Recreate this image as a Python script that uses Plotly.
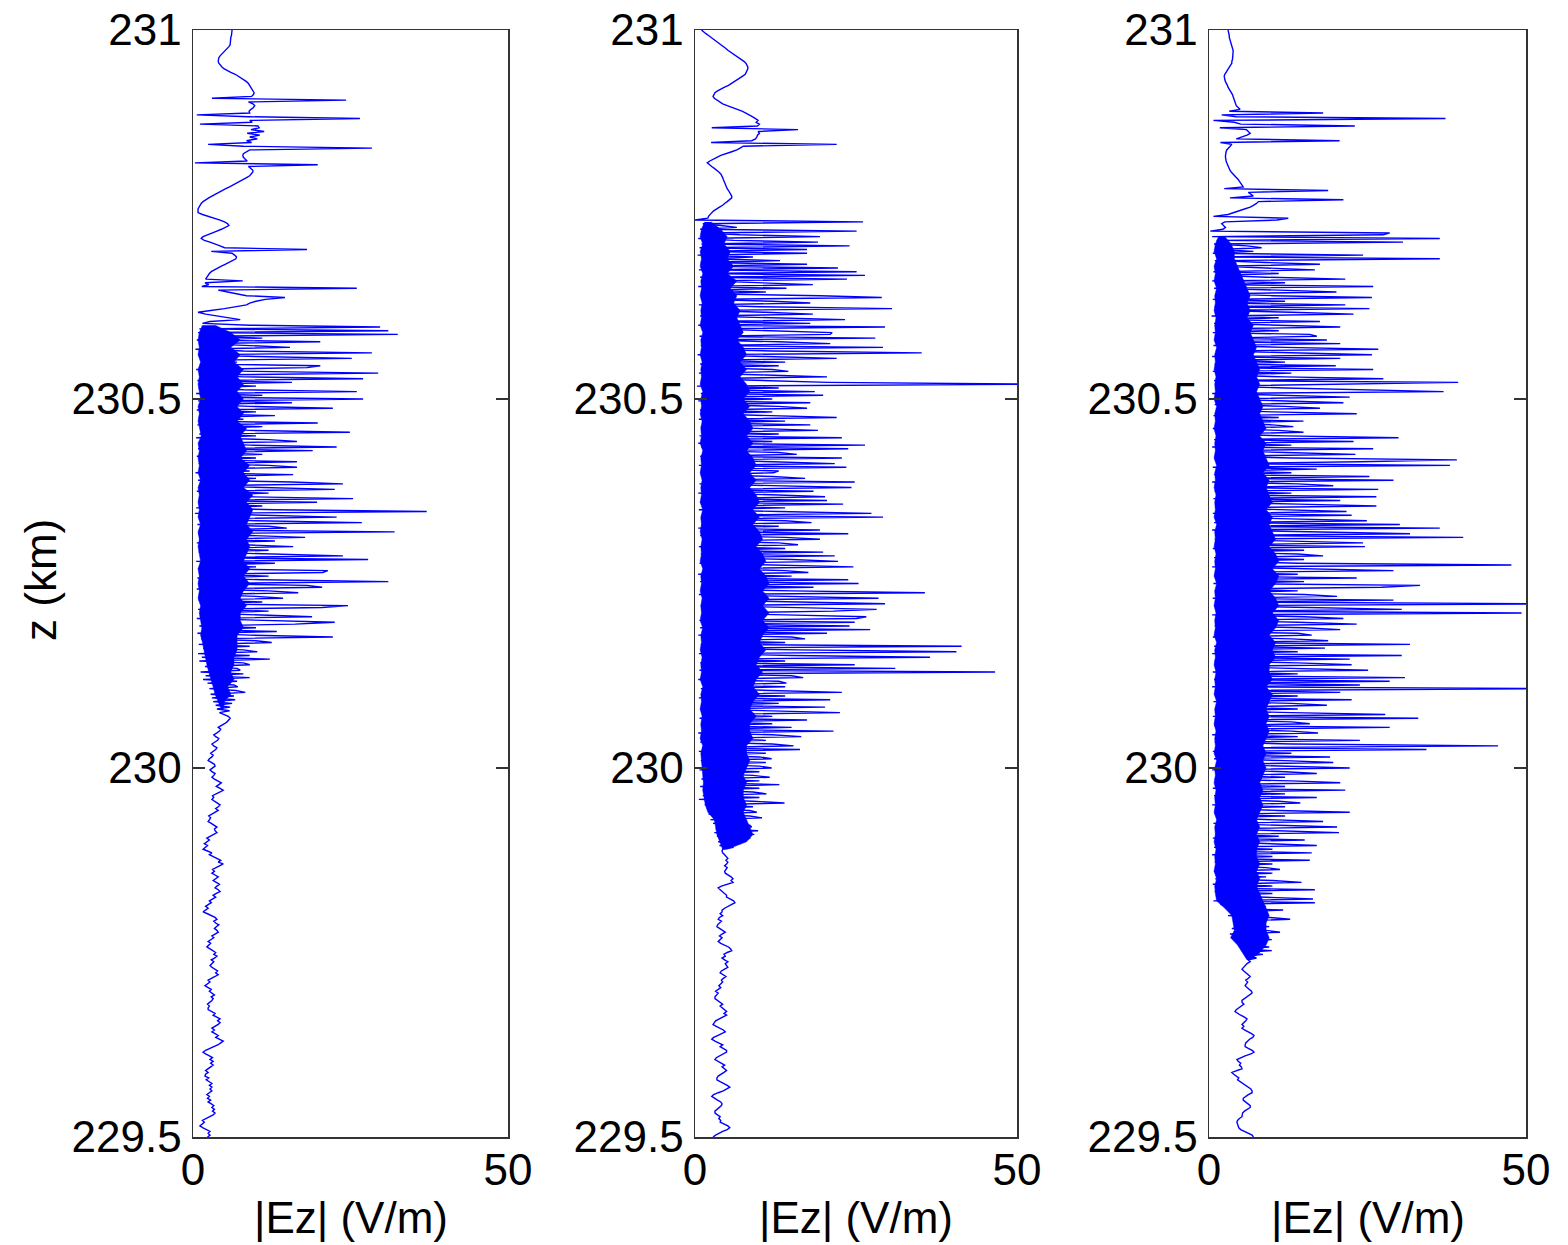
import plotly.graph_objects as go

# Sampling grid (km): z = Z_TOP - DZ * i
Z_TOP = 231.0
DZ = 0.0025

# ---------------- Panel 1 |Ez| (V/m) ----------------
ez1_top = [
    6.2,6.2,6.1,6.1,6.0,6.0,6.0,5.9,5.9,5.7,
    5.4,5.1,4.8,4.5,4.3,4.1,4.0,4.0,4.1,4.3,
    4.6,4.9,5.4,6.0,6.7,7.2,7.7,8.1,8.5,8.8,
    9.0,9.2,9.3,9.5,9.7,9.6,9.3,3.0,24.3,8.8,
    9.5,9.8,9.6,9.2,8.9,9.0,0.6,8.8,26.5,9.0,
    9.4,1.1,10.3,10.5,9.2,11.3,8.6,10.6,9.0,10.2,
    8.5,9.3,2.4,8.0,28.4,9.0,8.4,8.0,7.9,8.0,
    8.3,8.6,0.3,19.8,8.8,9.2,9.5,9.5,9.3,9.0,
    8.5,8.0,7.4,6.9,6.4,5.8,5.2,4.6,4.0,3.5,
    3.0,2.5,2.0,1.6,1.3,1.1,0.9,0.8,0.8,0.8,
    1.5,2.5,3.5,4.3,5.0,5.5,5.7,5.2,4.5,3.8,
    3.0,2.2,1.6,1.3,1.8,2.7,3.6,4.3,5.0,18.1,
    2.9,6.2,6.6,6.9,6.8,6.3,5.7,5.1,4.5,3.9,
    3.4,2.9,2.6,2.4,2.2,2.0,7.9,1.9,2.5,1.4,
    26.0,4.0,5.5,7.0,8.5,14.6,11.5,10.0,9.0,8.5,
    7.0,5.0,2.8,0.8,2.0,3.8,5.4,7.5,2.7,
]
ez1_dense = [
    1.5,9,29.7,1.0,31,0.8,32.5,1.2,11,0.6,
    20.2,1.5,9,15.4,0.4,8,28.4,0.9,10,25.2,
    1.2,7,1.8,20.2,18.1,0.5,9,29.4,1.0,8,
    27,0.7,15.7,1.4,10,0.9,8,26,0.5,11,
    1.3,27,0.8,15.7,1.1,9,22.2,0.6,10,1.5,
    13,0.9,8,1.2,19.8,0.7,11,1.6,9,24.9,
    1.0,10,0.5,12,16.5,1.3,9,22.8,0.8,19,
    1.4,11,0.6,10,1.8,16.5,0.9,12,16.5,1.2,
    9,0.4,15.9,1.7,10,0.8,15.7,23.8,1.1,11,
    22.5,0.6,12,1.5,9,25.4,0.9,19.7,1.3,11,
    0.5,13,37.1,0.3,12,22.8,1.2,10,26.8,0.7,
    12,14.9,1.6,32,0.8,11,17.8,1.0,13,0.6,
    10,15.9,1.4,12,0.9,11,23.8,1.2,27.8,0.5,
    13,1.7,10,0.8,21.4,20.6,1.3,12,0.7,11,
    31,1.1,18.1,20.5,0.6,12,16.7,1.5,10,14.3,
    0.9,11,1.4,24.6,20.5,0.8,12,1.2,10,18.9,
    0.6,11,22.5,16.2,1.0,10,1.8,13.3,0.7,9,
    22.2,1.3,10,12.5,0.9,9,1.6,8,10.2,0.8,
    9,1.4,12.2,1.0,8,9.0,1.9,7,7.5,1.2,
    8,2.0,9.0,1.6,7,2.3,6.5,7.1,2.6,6.8,
    8.3,2.8,6.5,3.0,6.7,3.2,6.2,3.6,5.9,3.8,
    5.8,4.2,
]
ez1_bottom = [
    5.0,5.6,5.9,5.7,5.4,5.0,4.5,4.0,4.4,4.2,
    3.8,3.3,3.6,4.1,3.9,3.5,3.0,3.3,3.8,3.6,
    3.2,2.8,3.2,3.0,2.6,2.4,2.9,3.4,3.5,3.1,
    2.7,3.0,3.5,3.3,3.0,3.4,4.0,4.5,4.1,3.7,
    4.3,4.8,4.3,3.6,3.1,3.3,3.0,3.4,3.9,4.3,
    4.0,3.6,4.0,3.5,2.9,2.5,2.8,2.6,2.4,2.9,
    3.4,3.8,3.4,3.5,3.8,3.3,2.7,2.2,2.6,2.2,
    1.8,2.3,1.9,1.6,2.3,3.0,2.6,3.2,3.9,4.4,
    4.0,4.8,4.2,3.5,3.1,3.4,3.0,3.5,4.0,3.6,
    3.2,3.7,4.2,3.8,3.5,4.0,4.3,3.7,3.2,3.6,
    3.0,2.6,2.9,2.4,2.0,2.4,1.9,1.6,2.3,3.0,
    3.5,3.8,3.3,3.6,4.1,3.7,3.4,3.8,4.0,3.5,
    3.0,3.3,2.8,2.4,2.8,2.5,2.2,2.7,3.2,3.6,
    3.3,3.8,3.4,2.9,3.3,3.0,2.7,3.0,3.5,3.9,
    3.6,4.0,3.5,2.9,2.4,2.7,2.2,1.9,2.4,2.9,
    2.6,3.0,3.4,2.9,3.2,3.0,2.7,2.3,2.6,2.4,
    2.4,2.9,3.5,3.2,3.8,4.3,3.9,4.3,4.0,3.5,
    3.0,3.4,3.0,3.5,4.0,3.6,4.2,4.8,4.4,4.0,
    3.3,2.6,2.0,1.6,2.0,2.6,3.1,2.7,3.2,2.8,
    3.2,2.8,2.4,2.0,2.4,2.0,1.9,2.5,2.1,2.6,
    3.0,2.6,3.0,2.7,3.0,2.6,2.2,2.6,2.3,2.8,
    2.4,2.9,3.3,3.0,3.4,3.1,3.5,3.2,2.6,2.0,
    1.5,1.8,1.4,1.1,1.6,2.2,2.7,2.4,2.7,2.3,
]

# ---------------- Panel 2 |Ez| (V/m) ----------------
ez2_top = [
    1.0,1.3,1.7,2.1,2.5,2.8,3.2,3.6,4.0,4.4,
    4.8,5.1,5.5,5.9,6.3,6.8,7.3,7.6,7.9,8.1,
    8.2,8.2,8.1,8.0,7.8,7.4,7.0,6.5,6.1,5.7,
    5.2,4.6,4.0,3.5,3.1,2.9,2.8,3.0,3.4,3.8,
    4.3,5.0,5.8,6.7,7.3,7.9,8.5,8.9,9.4,9.8,
    9.5,10.0,9.7,2.6,16.0,9.8,10.0,9.7,9.6,9.4,
    8.8,2.5,22.0,7.5,7.0,6.5,5.7,4.8,4.0,3.4,
    2.8,2.3,1.9,2.2,2.6,3.0,3.4,3.7,4.0,4.2,
    4.3,4.4,4.5,4.6,4.7,4.8,5.0,5.2,5.4,5.6,
    5.7,5.7,5.4,5.0,4.6,4.3,3.8,3.3,2.9,2.6,
    2.3,2.1,2.0,0.0,
]
ez2_dense = [
    26.1,1.2,4.0,6.5,0.8,25.1,1.5,7,19.4,0.5,
    6,19.1,1.0,24,0.7,17.4,1.3,17.4,0.4,9,
    1.6,13.2,0.9,17.4,1.1,22.2,0.6,25.1,1.4,26.4,
    0.8,23.6,1.7,10,18.3,0.5,14.2,1.2,11,0.9,
    19.4,29,1.0,12,17.9,0.6,10,30.6,1.4,11,
    18.3,0.8,12,23.3,1.1,17.9,0.5,29.5,1.5,12,
    21.3,21,0.7,28,1.3,13,21,0.9,29.2,1.6,
    12,35.2,0.4,11,22,1.2,14,0.8,13,1.5,
    12,14.5,0.6,11,20.5,1.0,12,20.7,55,0.3,
    13,1.4,18.6,0.9,19.9,1.2,12,0.5,17.9,1.7,
    13,17.4,0.8,12,1.3,11,22,0.6,14,1.5,
    17.9,0.9,12,19.1,1.1,13,0.7,22.8,1.4,12,
    0.5,26.4,1.0,23.8,1.6,13,15.8,0.8,22.8,1.2,
    12,21.7,0.6,23.5,1.5,13,12.2,0.9,12,17.1,
    1.3,24.8,0.7,14,24.3,1.1,18.4,0.5,13,20.2,
    1.6,20.5,0.8,23,1.2,14,0.6,13,27.4,1.4,
    29.2,0.9,14,18.1,1.0,13,0.5,19.4,1.7,23.8,
    0.8,14,19.4,1.3,13,16,0.6,14,1.5,19.9,
    0.9,21.7,1.1,15,22.2,0.7,13,24.6,1.4,14,
    17.6,0.5,15,1.2,23.8,0.8,25.4,1.6,18.4,1.0,
    15,35.7,0.6,14,28.5,1.3,16,29.5,0.9,15,
    28.2,21.5,1.1,14,26.6,25.1,0.7,24.8,1.5,24,
    0.8,27.2,1.2,20.5,0.5,15,17.1,1.4,14,0.9,
    41.4,1.0,16,40.6,0.6,15,36.5,1.3,14,0.8,
    24.8,1.6,31.1,0.7,46.6,1.1,15,16.8,0.5,13,
    14.2,1.4,14,0.9,13,22.8,1.2,14,0.6,21,
    1.5,13,1.0,20.2,0.8,14,22.5,1.3,12,0.7,
    17.4,1.6,12,0.9,15,1.2,21.5,0.5,12,16.5,
    1.4,11,0.8,12,15.3,1.1,16.3,0.6,11,1.5,
    10,11.9,0.9,11,1.3,10,11.9,0.7,10,1.6,
    9,11.6,1.0,10,1.4,13.1,0.8,10,1.7,9,
    11.1,1.2,10,0.6,9,13.9,1.5,9,1.9,8.5,
    9.6,2.1,8.5,10.4,2.4,8,2.8,8.5,8.8,3.2,
    9.8,3.0,9.2,3.4,8.6,7.5,3.6,7.0,3.8,6.0,
    4.3,
]
ez2_bottom = [
    4.2,4.3,4.6,4.9,5.1,4.8,5.1,4.9,4.6,5.0,
    4.8,4.6,4.7,5.2,5.6,5.9,5.6,5.9,5.0,4.1,
    3.6,3.9,4.3,4.6,4.9,4.9,5.5,6.0,6.2,5.6,
    5.0,4.6,4.2,4.2,3.9,4.3,3.8,3.6,4.1,3.8,
    3.5,3.4,3.8,4.3,4.7,4.2,3.8,4.2,3.9,3.6,
    4.0,4.6,5.2,5.5,5.7,5.0,4.5,4.7,4.2,4.6,
    5.1,4.7,4.9,5.1,4.6,4.1,3.9,4.3,4.8,4.4,
    4.1,4.3,4.0,3.7,4.0,3.6,3.2,3.6,3.3,3.1,
    3.1,3.5,3.9,4.3,3.9,4.3,4.6,4.9,4.5,4.9,
    4.3,3.7,3.2,3.0,2.8,3.3,3.9,4.4,4.7,4.2,
    3.5,2.9,2.6,3.1,3.7,4.3,3.9,4.4,4.9,4.9,
    4.3,3.7,3.3,3.1,3.6,4.1,4.6,4.2,4.6,4.9,
    4.5,4.0,3.6,3.4,3.4,3.9,4.5,5.0,5.4,5.0,
    4.4,3.6,2.9,2.6,3.0,3.5,4.0,4.2,4.1,3.7,
    3.3,3.1,3.1,3.5,3.9,3.7,4.0,3.9,4.5,5.1,
    5.4,5.0,4.3,3.6,3.2,2.8,
]

# ---------------- Panel 3 |Ez| (V/m) ----------------
ez3_top = [
    3.0,3.1,3.1,3.2,3.2,3.3,3.4,3.5,3.6,3.7,
    3.7,3.8,3.8,3.8,3.8,3.7,3.7,3.6,3.6,3.4,
    3.2,3.0,2.8,2.6,2.5,2.4,2.4,2.5,2.6,2.8,
    2.9,3.0,3.2,3.4,3.5,3.7,3.8,3.9,4.0,4.1,
    4.2,4.3,4.6,4.9,3.2,18.0,2.0,4.3,37.3,0.7,
    4.0,5.0,23.0,1.7,5.9,6.2,6.5,6.0,5.2,4.3,
    20.6,1.8,3.6,3.3,3.0,2.8,2.7,2.6,2.6,2.6,
    2.6,2.7,2.8,2.9,3.0,3.2,3.3,3.5,3.8,4.1,
    4.4,4.6,4.8,5.0,5.2,5.4,2.4,18.8,6.2,6.6,
    7.0,3.3,21.2,7.8,7.5,7.0,6.5,5.6,4.7,3.8,
    3.0,0.7,12.5,10.7,2.5,2.0,2.3,2.6,2.2,0.2,
]
ez3_dense = [
    28.5,27.5,0.5,36.4,1.2,30.6,0.8,6,8.3,1.5,
    7,0.6,24.3,1.1,36.4,0.9,9,17.5,1.4,10,
    16.7,0.7,11,1.3,9,21.5,0.5,12,1.6,25.9,
    0.8,11,20.1,1.2,10,25.7,0.6,12,1.5,21.5,
    0.9,25.3,1.1,13,22.8,0.4,11,1.7,17.5,0.8,
    12,20.7,1.3,11,0.6,15.9,17,1.0,18.6,1.4,
    20.7,0.7,12,26.7,1.2,13,25.7,0.5,20.7,1.6,
    12,0.9,20,1.1,25.9,0.6,13,1.4,12,27.5,
    0.8,39.3,23.3,1.2,12,26.7,37,0.5,13,22.2,
    1.5,11,21.2,0.9,12,17.5,1.3,10,23.3,0.7,
    11,1.6,14.9,1.0,10,13.3,0.6,11,14.9,1.4,
    12,29.9,0.8,22.8,1.2,13,0.5,25.9,1.7,12,
    23.1,0.9,13,39.1,23.8,1.1,38,0.6,17,1.4,
    13,0.8,25.3,1.2,29.1,0.5,14,19.6,1.6,26.7,
    0.9,13,1.3,26.4,0.7,20.7,1.5,14,26.4,1.0,
    13,21.7,0.6,22.5,1.4,14,24.9,0.8,30.1,1.2,
    36.4,0.5,15,31.7,1.7,40.1,0.9,14,24.3,1.1,
    24.6,0.6,15,1.4,14,18.0,0.8,15,1.2,14,
    47.7,0.5,15,29.1,1.6,14,0.9,23.3,1.3,15,
    0.7,33.3,27.2,1.5,14,1.0,15,20.2,0.6,29.1,
    1.4,55,0.8,16,30.4,1.2,49.3,0.5,15,21.2,
    1.6,14,23.3,0.9,15,20.7,1.1,14,16.2,0.6,
    13,18.8,1.4,31.7,0.8,18.3,1.2,14,0.5,30.4,
    1.7,22.2,0.9,14,22.5,1.1,15,25.1,0.6,14,
    1.4,30.9,0.8,28.5,1.2,23.8,0.5,55,1.6,20.7,
    0.9,14,1.3,22.5,0.7,13,18.6,1.5,14,1.0,
    13,27.8,0.6,33,1.4,13,15.9,0.8,28.5,1.2,
    13,17.2,0.5,14,1.6,23.8,0.9,13,45.6,1.1,
    34.3,0.6,13,1.4,19.1,0.8,12,19.6,1.2,13,
    22.2,0.5,12,17,1.7,12,0.9,13,20.7,1.1,
    12,0.6,21.5,1.4,12,0.8,17,1.2,11,14.4,
    0.5,12,1.6,11,22.2,0.9,12,1.3,11,18,
    0.7,11,20.2,1.5,12,20.5,1.0,11,0.6,15.1,
    1.4,11,17,0.8,10,1.2,16.2,0.5,10,1.7,
    15.9,0.9,10,1.3,9,11.2,0.8,10,1.5,9,
    1.0,10,14.6,0.6,10,1.4,16.7,0.9,10,1.2,
    9,16.4,0.7,16.7,1.8,9,2.6,11.7,3.4,9,
    3.0,9.5,12.8,3.8,9,4.1,9.5,3.6,9,11.2,
    3.3,9,4.0,9.9,4.5,9,4.9,9.5,5.0,9.9,
    5.4,8.5,5.7,7.5,6.2,6.5,
]
ez3_bottom = [
    6.0,5.7,5.4,5.2,5.5,5.9,6.3,6.5,6.2,5.8,
    6.1,5.9,5.7,6.0,6.4,6.7,6.8,6.4,5.9,5.5,
    5.2,5.2,5.5,5.1,4.6,4.3,4.1,4.5,5.0,5.6,
    6.0,5.8,5.5,5.2,5.5,5.2,5.6,6.2,6.7,7.1,
    6.9,6.4,6.0,5.8,5.7,5.7,6.2,6.8,7.1,6.6,
    5.7,4.9,4.4,4.6,5.0,4.8,5.1,5.2,4.4,3.6,
    3.9,4.3,4.7,4.5,4.9,5.3,5.8,6.3,6.6,6.8,
    6.8,6.2,5.7,5.4,5.4,5.8,6.2,6.5,6.5,6.0,
    5.6,5.3,5.2,5.2,4.8,4.5,4.4,4.5,4.7,4.7,
    5.0,5.6,6.2,6.8,7.0,
]

# ---- Dense-core band of the turbulent zone (where oscillations merge), every 0.01 km ----
DZC = 0.01
core1_ztop = 230.60
core1_hi = [3.5,6,7.5,6,7.5,6.5,8,7,8,7, 8,7,8,7,8.5,7.5,8,8.5,7.5,9,
            8,9,8,9.5,8.5,9.5,9,8.5,9.5,8.5, 9,8.5,8,9,8,9,8,7.5,8.5,7.5,
            7.5,8,7,7,7,6.5,6.5,6,6.5,5.5, 6,5,4.8]
core1_lo = [1.5,1,0.8,1,0.8,1.2,0.8,1,0.8,1, 1.2,0.8,1,0.8,1,1.3,0.8,1,0.8,1,
            0.8,1.2,0.8,1,0.8,1,0.8,1.2,0.8,1, 0.8,1,1.2,0.8,1,0.8,1,0.8,1.2,1,
            1.2,1.4,1.2,1.5,1.8,2.0,2.2,2.5,2.8,3.2, 3.5,4.0,4.5]
core2_ztop = 230.74
core2_hi = [2.5,4,5,4.5,5.5,5,6,5,6.5,5.5, 6.5,6,7,6.5,7,7.5,6.5,7.5,8,7,
            8,7,8,8.5,7.5,8.5,7.5,8.5,9,8, 9,8,9,9.5,8.5,9.5,8.5,9.5,10,9,
            10,9,10,10.5,9.5,10.5,11,10,11,11.5, 10.5,11.5,10.5,11.5,10.5,11.5,10.5,10,11,10,
            9.5,10.5,9.5,9,10,9,8.5,9.5,8.5,8.5, 9,8,8,8.5,8,7.5,8,7.5,7.5,8,
            7.5,8,8.5,9,8,5]
core2_lo = [1.5,1.0,0.8,1.2,0.8,1.0,0.8,1.2,0.9,1.0, 0.8,1.1,0.9,1.0,0.8,1.2,0.9,1.0,0.8,1.1,
            0.9,1.0,0.8,1.2,0.9,1.0,0.8,1.1,0.9,1.0, 0.8,1.2,0.9,1.0,0.8,1.1,0.9,1.0,0.8,1.2,
            0.9,1.0,0.8,1.1,0.9,1.0,0.8,1.2,0.9,1.0, 0.8,1.1,0.9,1.0,0.8,1.2,0.9,1.0,0.8,1.1,
            0.9,1.0,0.8,1.2,0.9,1.0,0.8,1.1,0.9,1.0, 0.8,1.2,0.9,1.0,1.1,1.2,1.3,1.2,1.4,1.6,
            2.0,3.0,3.2,3.4,3.8,4.3]
core3_ztop = 230.72
core3_hi = [2.5,3.5,4,4,4.5,5,5.5,6,6.5,6, 6.5,6,7,6.5,7,7.5,7,7.5,8,7.5,
            8,7.5,8,8.5,8,8.5,9,8,9,8.5, 9,9.5,8.5,9.5,9,9.5,10,9,10,9.5,
            10,10.5,9.5,10.5,11,10,11,10.5,9.5,10.5, 11,10,11,10.5,9.5,10.5,10,10.5,9.5,9.5,
            10,9,10,9.5,9,9.5,9,9.5,9,8.5, 9,8.5,9,8.5,8,8.5,8,8.5,8,7.5,
            8,7.5,8,7.5,7.5,8,7.5,8,7.5,8, 8.5,9,9.5,9,9,9.5,9,8,6.5]
core3_lo = [1.5,1.0,0.8,1.2,0.8,1.0,0.8,1.2,0.9,1.0, 0.8,1.1,0.9,1.0,0.8,1.2,0.9,1.0,0.8,1.1,
            0.9,1.0,0.8,1.2,0.9,1.0,0.8,1.1,0.9,1.0, 0.8,1.2,0.9,1.0,0.8,1.1,0.9,1.0,0.8,1.2,
            0.9,1.0,0.8,1.1,0.9,1.0,0.8,1.2,0.9,1.0, 0.8,1.1,0.9,1.0,0.8,1.2,0.9,1.0,0.8,1.1,
            0.9,1.0,0.8,1.2,0.9,1.0,0.8,1.1,0.9,1.0, 0.8,1.2,0.9,1.0,0.8,1.1,0.9,1.0,0.8,1.2,
            0.9,1.0,0.8,1.1,0.9,1.0,0.8,1.2,0.9,1.0, 1.2,2.5,3.6,3.8,4.0,3.4,4.5,5.3,6.0]

ez_panels = [
    ez1_top + ez1_dense + ez1_bottom,
    ez2_top + ez2_dense + ez2_bottom,
    ez3_top + ez3_dense + ez3_bottom,
]
cores = [
    (core1_ztop, core1_hi, core1_lo),
    (core2_ztop, core2_hi, core2_lo),
    (core3_ztop, core3_hi, core3_lo),
]

y_ticks = [229.5, 230, 230.5, 231]
y_ticklabels = ["229.5", "230", "230.5", "231"]
x_ticks = [0, 50]
x_ticklabels = ["0", "50"]
x_range = [0, 50]
y_range = [229.5, 231]

# page body margin is removed (post_script), so figure pixels == screen pixels
W, H = 1568, 1245
panel_px = [(193, 508), (695, 1017), (1209, 1526)]
top_px, bot_px = 30, 1137
ydom = [1 - bot_px / H, 1 - top_px / H]

FONT = "Liberation Sans, Arial, sans-serif"
FS = 44
AX_COLOR = "#333333"
BLUE = "#0000ff"

fig = go.Figure()
layout = dict(
    template="none",
    width=W, height=H,
    margin=dict(l=0, r=0, t=0, b=0, pad=0, autoexpand=False),
    paper_bgcolor="white", plot_bgcolor="white",
    showlegend=False,
    font=dict(family=FONT, size=FS, color="black"),
)
annotations = []
for k, ez in enumerate(ez_panels):
    suffix = "" if k == 0 else str(k + 1)
    xa, ya = "x" + suffix, "y" + suffix
    # dense core band
    zt, hi, lo = cores[k]
    zc = [zt - DZC * i for i in range(len(hi))]
    fig.add_trace(go.Scatter(
        x=hi + lo[::-1], y=zc + zc[::-1], mode="lines",
        fill="toself", fillcolor=BLUE, line=dict(color=BLUE, width=0.5),
        xaxis=xa, yaxis=ya, hoverinfo="skip",
    ))
    # full profile
    n = len(ez)
    z = [Z_TOP - DZ * i for i in range(n)]
    fig.add_trace(go.Scatter(
        x=ez, y=z, mode="lines",
        line=dict(color=BLUE, width=1.4),
        xaxis=xa, yaxis=ya, hoverinfo="skip",
    ))
    x0, x1 = panel_px[k]
    layout["xaxis" + suffix] = dict(
        domain=[x0 / W, x1 / W], range=x_range, anchor=ya,
        automargin=False, ticklabeloverflow="allow",
        tickmode="array", tickvals=x_ticks, ticktext=x_ticklabels,
        ticks="inside", ticklen=12, tickwidth=1.5, tickcolor=AX_COLOR,
        showline=True, linecolor=AX_COLOR, linewidth=1.5, mirror="ticks",
        showgrid=False, zeroline=False,
        tickfont=dict(family=FONT, size=FS, color="black"),
        ticklabelstandoff=-6,
    )
    layout["yaxis" + suffix] = dict(
        domain=ydom, range=y_range, anchor=xa,
        automargin=False, ticklabeloverflow="allow",
        tickmode="array", tickvals=y_ticks, ticktext=y_ticklabels,
        ticks="inside", ticklen=12, tickwidth=1.5, tickcolor=AX_COLOR,
        showline=True, linecolor=AX_COLOR, linewidth=1.5, mirror="ticks",
        showgrid=False, zeroline=False,
        tickfont=dict(family=FONT, size=FS, color="black"),
        ticklabelstandoff=1,
    )
    annotations.append(dict(
        text="|Ez| (V/m)", xref="paper", yref="paper",
        x=((x0 + x1) / 2) / W, y=1 - 1217 / H,
        xanchor="center", yanchor="middle",
        showarrow=False, font=dict(family=FONT, size=FS, color="black"),
    ))

annotations.append(dict(
    text="z (km)", xref="paper", yref="paper",
    x=40 / W, y=1 - 580 / H, xanchor="center", yanchor="middle",
    textangle=-90, showarrow=False, font=dict(family=FONT, size=FS, color="black"),
))
layout["annotations"] = annotations
fig.update_layout(**layout)

fig.write_html(
    "out.html",
    config={"displayModeBar": False, "staticPlot": True},
    post_script="document.body.style.margin='0px';document.body.style.overflow='hidden';",
)
